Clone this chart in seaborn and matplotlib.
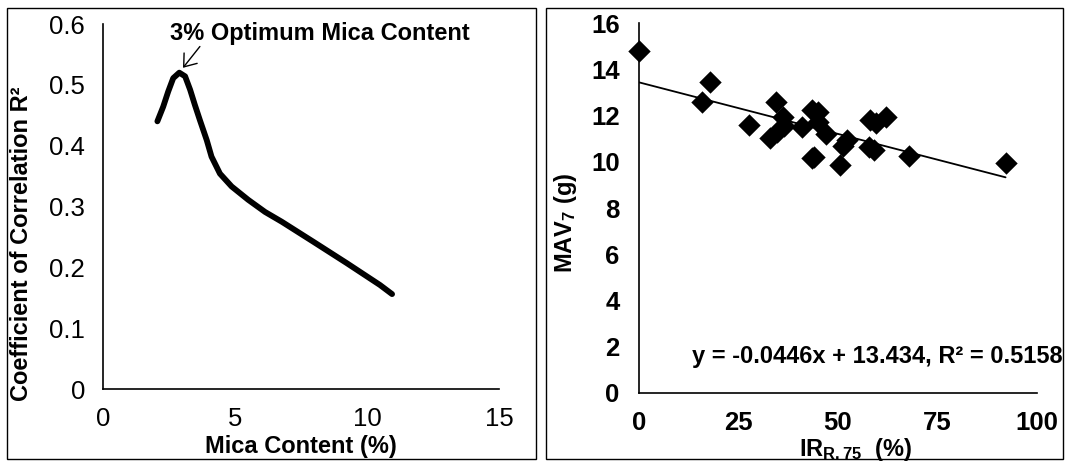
import matplotlib
matplotlib.use("Agg")
import matplotlib.pyplot as plt
import seaborn as sns
import numpy as np
import pandas as pd
from matplotlib.patches import Rectangle

# ---------------- data ----------------
mica_content = [2.06, 2.28, 2.47, 2.66, 2.89, 3.11, 3.30, 3.48, 3.67, 3.93,
                4.11, 4.43, 4.87, 5.50, 6.14, 6.77, 7.97, 9.23, 10.49, 10.95]
r2_values = [0.440, 0.464, 0.489, 0.511, 0.520, 0.514, 0.492, 0.467, 0.442,
             0.409, 0.382, 0.354, 0.333, 0.311, 0.291, 0.275, 0.242, 0.207,
             0.171, 0.156]

ir_r75 = [0.0, 17.8, 15.9, 27.6, 34.3, 36.3, 32.9, 34.6, 36.4, 41.0, 43.4,
          45.1, 44.9, 46.9, 43.4, 44.0, 50.5, 51.3, 52.2, 57.9, 59.1, 58.0,
          59.5, 62.0, 67.8, 92.1]
mav7 = [14.80, 13.46, 12.60, 11.59, 12.60, 11.95, 11.01, 11.30, 11.55, 11.52,
        12.24, 12.17, 11.73, 11.19, 10.15, 10.20, 9.86, 10.70, 10.94, 10.65,
        10.51, 11.80, 11.66, 11.92, 10.26, 9.93]

slope = -0.0446
intercept = 13.434
r_squared = 0.5158

left_xticks = [0, 5, 10, 15]
left_yticks = [0, 0.1, 0.2, 0.3, 0.4, 0.5, 0.6]
left_yticklabels = ["0", "0.1", "0.2", "0.3", "0.4", "0.5", "0.6"]
right_xticks = [0, 25, 50, 75, 100]
right_yticks = [0, 2, 4, 6, 8, 10, 12, 14, 16]

# ---------------- style ----------------
sns.set_theme(style="white")
plt.rcParams["font.family"] = ["Liberation Sans", "DejaVu Sans"]
plt.rcParams["mathtext.fontset"] = "custom"
plt.rcParams["mathtext.rm"] = "Liberation Sans"
plt.rcParams["mathtext.bf"] = "Liberation Sans:bold"
plt.rcParams["mathtext.it"] = "Liberation Sans:italic"
plt.rcParams["text.color"] = "black"
plt.rcParams["axes.labelcolor"] = "black"
plt.rcParams["xtick.color"] = "black"
plt.rcParams["ytick.color"] = "black"

fig = plt.figure(figsize=(10.67, 4.61), dpi=100)
W, H = 1067, 461

def px_rect(x0, y0, x1, y1):
    return [x0 / W, 1 - y1 / H, (x1 - x0) / W, (y1 - y0) / H]

# panel frames
for (x0, x1) in [(7, 536), (546, 1063)]:
    fig.patches.append(Rectangle((x0 / W, 1 - 459 / H), (x1 - x0) / W, (459 - 8) / H,
                                 transform=fig.transFigure, fill=False,
                                 edgecolor="black", linewidth=1.0))

TICK_FS = 18.5
LABEL_FS = 17

# ---------------- left panel ----------------
ax1 = fig.add_axes(px_rect(103, 24, 499, 389))
df1 = pd.DataFrame({"mica": mica_content, "r2": r2_values})
sns.lineplot(data=df1, x="mica", y="r2", ax=ax1, color="black", linewidth=4.2,
             sort=False, estimator=None)
ax1.lines[-1].set_solid_capstyle("round")
ax1.lines[-1].set_solid_joinstyle("round")
ax1.set_xlim(0, 15)
ax1.set_ylim(0, 0.6)
ax1.set_xticks(left_xticks)
ax1.set_xticklabels([str(t) for t in left_xticks])
ax1.set_yticks(left_yticks)
ax1.set_yticklabels(left_yticklabels)
ax1.tick_params(axis="both", direction="out", length=6, width=1.2,
                colors="black", labelsize=TICK_FS)
ax1.tick_params(axis="x", pad=7)
ax1.tick_params(axis="y", pad=7)
for s in ["top", "right"]:
    ax1.spines[s].set_visible(False)
for s in ["left", "bottom"]:
    ax1.spines[s].set_color("black")
    ax1.spines[s].set_linewidth(1.2)
ax1.set_xlabel("Mica Content (%)", fontsize=LABEL_FS, fontweight="bold")
ax1.set_ylabel("Coefficient of Correlation R²", fontsize=LABEL_FS, fontweight="bold")
ax1.yaxis.set_label_coords(-0.177, 0.397)
ax1.xaxis.set_label_coords(0.5, -0.125)
ax1.text(8.2, 0.574, "3% Optimum Mica Content", ha="center", va="baseline",
         fontsize=LABEL_FS, fontweight="bold")
ax1.annotate("", xy=(3.03, 0.528), xytext=(3.67, 0.563),
             arrowprops=dict(arrowstyle="->, head_length=0.4, head_width=0.3",
                             color="black", lw=1.0, shrinkA=0, shrinkB=0,
                             mutation_scale=20))

# ---------------- right panel ----------------
ax2 = fig.add_axes(px_rect(639, 23, 1037, 393))
df2 = pd.DataFrame({"ir": ir_r75, "mav": mav7})
line_x = np.array([min(ir_r75), max(ir_r75)])
df_fit = pd.DataFrame({"ir": line_x, "mav": intercept + slope * line_x})
sns.lineplot(data=df_fit, x="ir", y="mav", ax=ax2, color="black", linewidth=1.3)
sns.scatterplot(data=df2, x="ir", y="mav", ax=ax2, marker="D", s=130,
                color="black", edgecolor="black", linewidth=0, zorder=3,
                clip_on=False)
ax2.set_xlim(0, 100)
ax2.set_ylim(0, 16)
ax2.set_xticks(right_xticks)
ax2.set_xticklabels([str(t) for t in right_xticks], fontweight="bold")
ax2.set_yticks(right_yticks)
ax2.set_yticklabels([str(t) for t in right_yticks], fontweight="bold")
ax2.tick_params(axis="both", direction="out", length=6, width=1.2,
                colors="black", labelsize=TICK_FS)
ax2.tick_params(axis="x", pad=7)
ax2.tick_params(axis="y", pad=8)
for s in ["top", "right"]:
    ax2.spines[s].set_visible(False)
for s in ["left", "bottom"]:
    ax2.spines[s].set_color("black")
    ax2.spines[s].set_linewidth(1.2)
ax2.set_xlabel(r"IR$_{\mathbf{R.75}}$  (%)", fontsize=LABEL_FS, fontweight="bold")
ax2.set_ylabel(r"MAV$_{\mathbf{7}}$ (g)", fontsize=LABEL_FS, fontweight="bold")
ax2.xaxis.set_label_coords(0.543, -0.115)
ax2.yaxis.set_label_coords(-0.15, 0.46)
ax2.text(1.065, 0.081,
         f"y = {slope}x + {intercept}, R² = {r_squared}",
         transform=ax2.transAxes, ha="right", va="baseline",
         fontsize=LABEL_FS, fontweight="bold")

fig.savefig("out.png", dpi=100)
